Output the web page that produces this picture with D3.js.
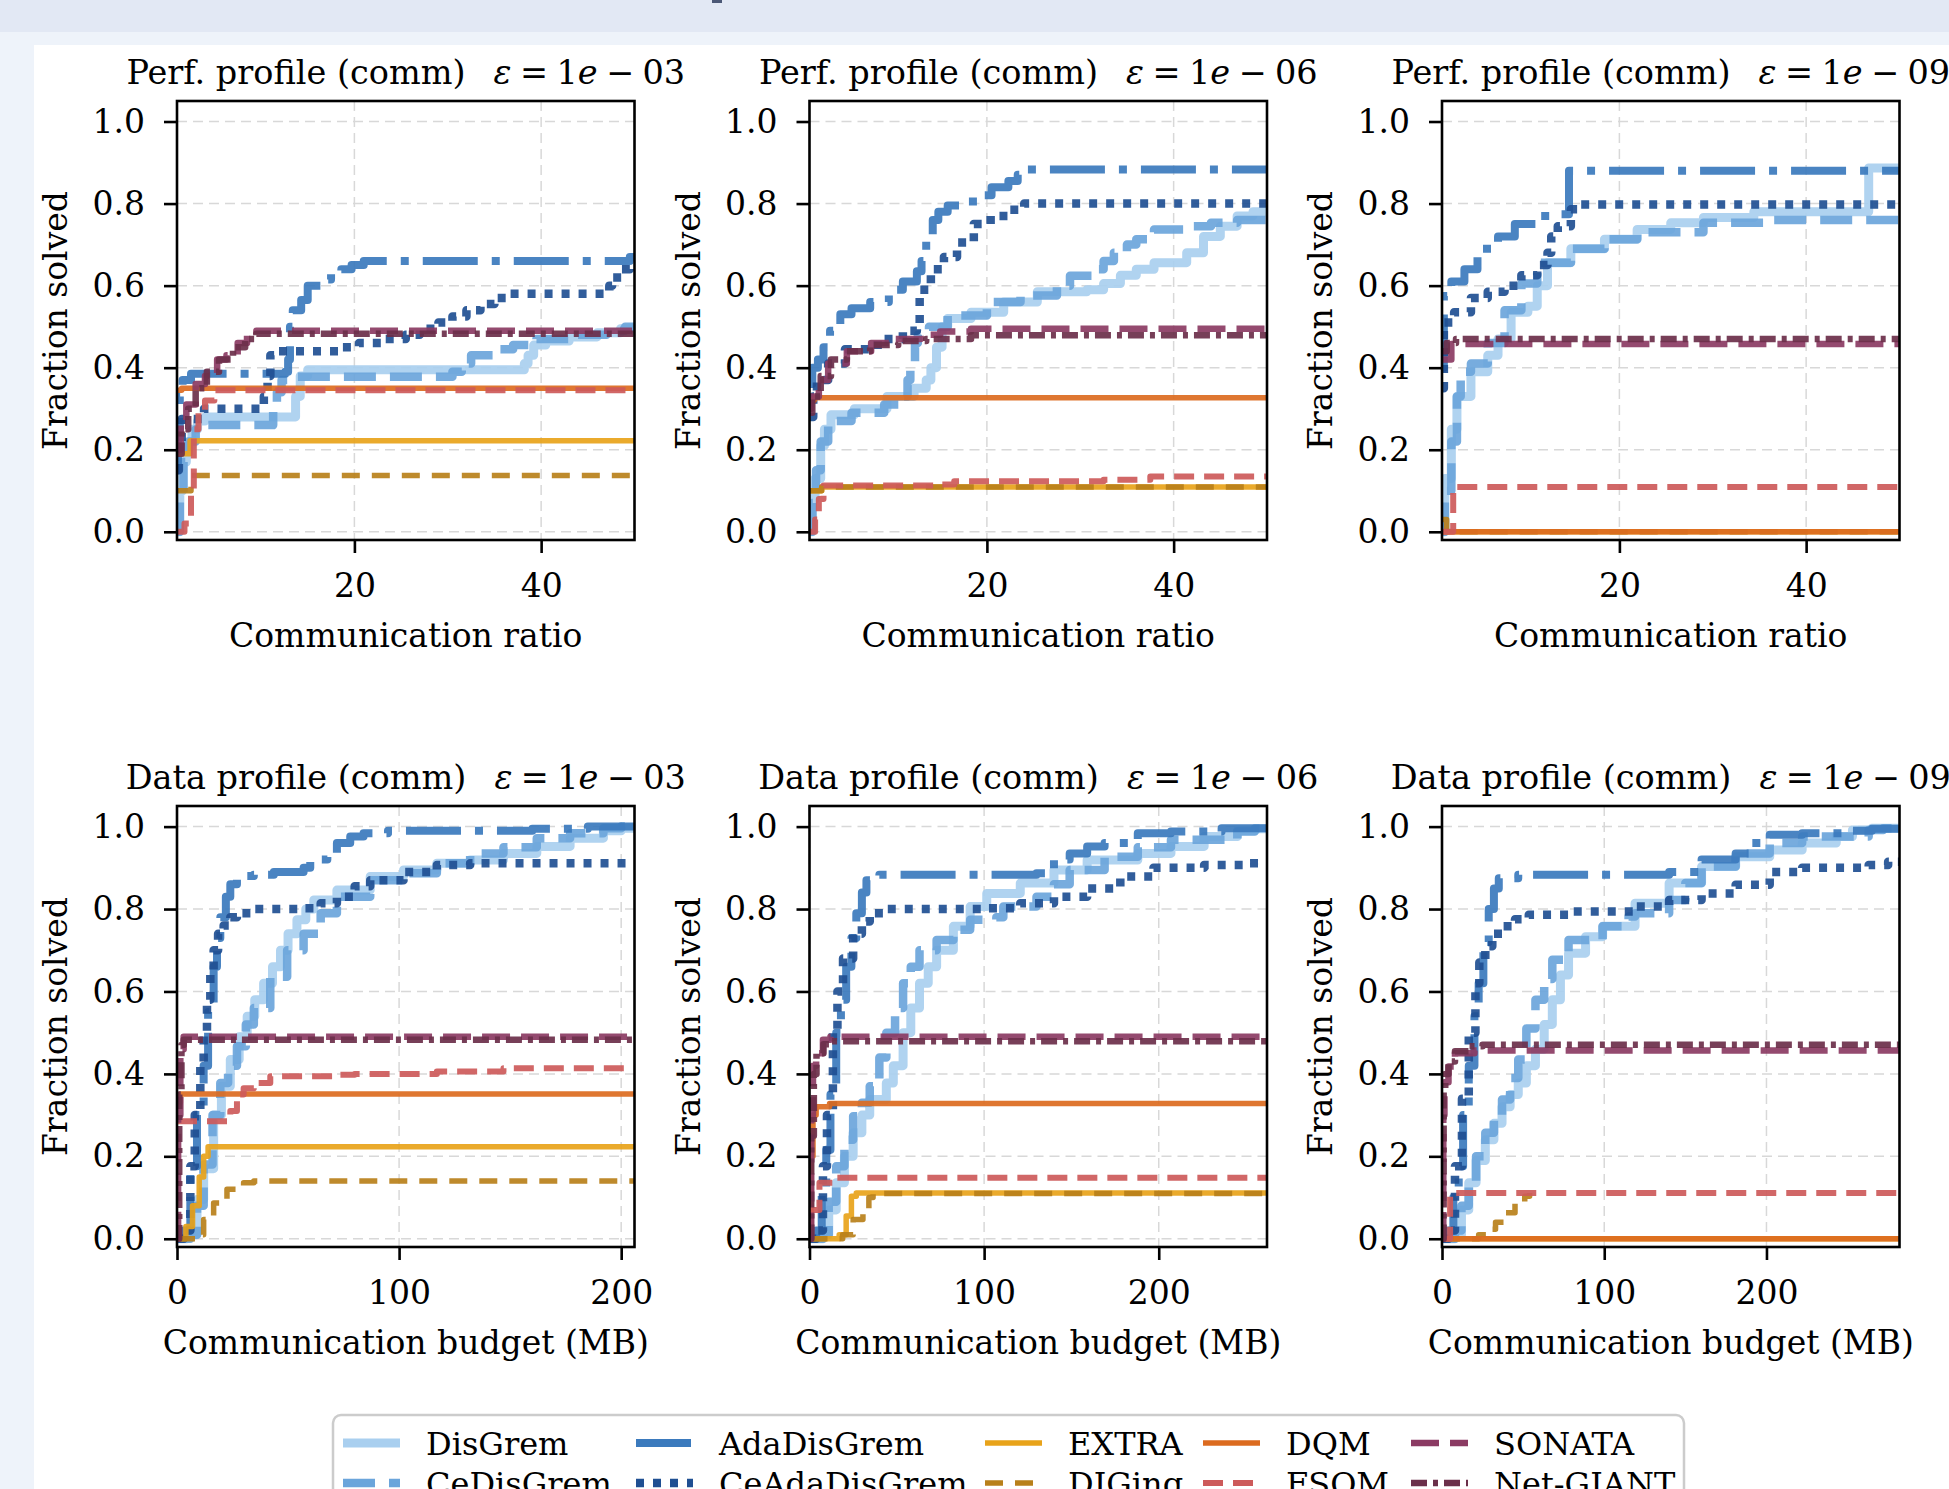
<!DOCTYPE html>
<html>
<head>
<meta charset="utf-8">
<script src="https://cdn.jsdelivr.net/npm/d3@7"></script>
<style>
html,body{margin:0;padding:0;background:#eef3fa;}
svg{display:block;font-family:"DejaVu Serif",serif;}
</style>
</head>
<body>
<svg id="chart" width="1949" height="1489"></svg>
<script>
// ---------------- DATA ----------------
const methods = ["DisGrem","CeDisGrem","AdaDisGrem","CeAdaDisGrem","EXTRA","DIGing","DQM","FSOM","SONATA","Net-GIANT"];
const epsLabels = ["03","06","09"];
const profileNames = ["Perf. profile (comm)","Data profile (comm)"];
const xAxisLabels = ["Communication ratio","Communication budget (MB)"];
const yAxisLabel = "Fraction solved";
const yTicks = [0,0.2,0.4,0.6,0.8,1.0];
const perfXTicks = [20,40];
const dataXTicks = [0,100,200];
const perfXLim = [[1,50],[1,50],[1,50]];
const dataXLim = [[0,206],[0,262],[0,282]];

// step points [x, y] per method, in order of `methods`
const perfE03 = [
  [[1,0],[1.3,0.1],[1.6,0.17],[2,0.21],[2.6,0.25],[3.2,0.27],[4,0.28],[13.7,0.33],[14.2,0.38],[15,0.395],[38.2,0.41],[38.6,0.43],[39.2,0.455],[40.5,0.465],[43,0.475],[46,0.485],[48.5,0.495],[50,0.495]],
  [[1,0],[1.3,0.08],[1.7,0.17],[2.2,0.22],[3,0.25],[3.9,0.26],[11.3,0.3],[11.7,0.34],[12.2,0.37],[13,0.378],[30.5,0.39],[31.5,0.41],[32.5,0.43],[35,0.445],[37,0.455],[39.5,0.47],[43,0.48],[47,0.49],[49,0.5],[50,0.5]],
  [[1,0.15],[1.1,0.25],[1.3,0.33],[1.6,0.37],[2.5,0.385],[12.6,0.39],[12.9,0.42],[13.1,0.5],[13.4,0.54],[14.3,0.565],[15,0.6],[16.5,0.615],[17.5,0.63],[18.6,0.64],[19.7,0.65],[21,0.66],[49.5,0.67],[50,0.67]],
  [[1,0.15],[1.2,0.22],[1.5,0.275],[3.9,0.3],[10.3,0.33],[10.7,0.38],[11,0.43],[11.5,0.44],[18.5,0.45],[20.5,0.46],[23,0.47],[25.5,0.48],[27,0.495],[29,0.51],[30.5,0.525],[32,0.54],[33.5,0.555],[35,0.57],[36.5,0.58],[47.3,0.6],[47.6,0.62],[48.6,0.64],[49.5,0.65],[50,0.65]],
  [[1,0.19],[2.4,0.222],[50,0.222]],
  [[1,0.1],[2.5,0.137],[50,0.137]],
  [[1,0.345],[1.5,0.35],[50,0.35]],
  [[1,0],[1.8,0.02],[2.5,0.1],[2.8,0.25],[3.3,0.29],[4,0.32],[5,0.345],[50,0.345]],
  [[1,0.2],[1.4,0.26],[2,0.31],[3,0.36],[4,0.38],[5.3,0.42],[6.3,0.43],[7.5,0.46],[8.5,0.48],[9.5,0.49],[50,0.49]],
  [[1,0.19],[1.5,0.25],[2.2,0.3],[3,0.35],[4.2,0.39],[5.5,0.42],[7,0.45],[8.3,0.47],[9.5,0.483],[50,0.483]]
];
const perfE06 = [
  [[1,0],[1.3,0.08],[1.6,0.13],[2.2,0.21],[2.6,0.25],[3.3,0.285],[5.8,0.3],[9.3,0.33],[12.2,0.35],[13.5,0.37],[14,0.4],[14.6,0.45],[15.2,0.5],[15.8,0.52],[18.3,0.535],[21.8,0.56],[25.4,0.585],[30.7,0.59],[32.5,0.605],[34.3,0.625],[36,0.64],[37.9,0.656],[41.4,0.68],[43.2,0.72],[45,0.745],[46.8,0.77],[48.5,0.78],[50,0.78]],
  [[1,0],[1.3,0.07],[1.7,0.15],[2.2,0.22],[3,0.27],[5.5,0.29],[9,0.31],[11.1,0.33],[11.5,0.37],[11.8,0.4],[12.3,0.46],[12.6,0.48],[13.8,0.5],[15.8,0.527],[20,0.56],[23.6,0.576],[27.5,0.6],[28.9,0.624],[31.4,0.64],[32.5,0.66],[33.6,0.68],[35,0.7],[36,0.713],[37.9,0.737],[41.4,0.745],[44,0.753],[46.8,0.76],[50,0.76]],
  [[1,0.36],[1.3,0.4],[1.9,0.42],[2.5,0.45],[3.2,0.49],[4.3,0.53],[5.5,0.545],[7.5,0.56],[9.5,0.59],[11,0.61],[12.5,0.635],[13,0.66],[13.5,0.71],[14.2,0.76],[14.8,0.78],[15.8,0.795],[17.8,0.805],[19,0.82],[20.5,0.84],[22.3,0.855],[23.3,0.87],[23.8,0.883],[50,0.883]],
  [[1,0.28],[1.4,0.33],[1.8,0.37],[3,0.41],[4.8,0.445],[8.3,0.47],[11,0.49],[12.5,0.5],[12.8,0.59],[14,0.64],[15.4,0.67],[16.8,0.705],[18.6,0.75],[20.4,0.77],[22.5,0.785],[24,0.8],[50,0.8]],
  [[1,0.1],[2.3,0.109],[50,0.109]],
  [[1,0.1],[2.3,0.109],[50,0.109]],
  [[1,0.32],[1.5,0.327],[50,0.327]],
  [[1,0],[1.6,0.03],[2,0.08],[2.5,0.113],[14.7,0.115],[16.5,0.123],[32.5,0.127],[37.5,0.135],[50,0.135]],
  [[1,0.3],[1.2,0.33],[2,0.37],[3,0.41],[5,0.44],[7.6,0.46],[10,0.47],[12.9,0.48],[15,0.488],[18.3,0.495],[50,0.495]],
  [[1,0.29],[1.3,0.33],[2.2,0.38],[3.3,0.42],[5,0.44],[7.5,0.455],[10.5,0.465],[13.5,0.47],[18.3,0.479],[50,0.479]]
];
const perfE09 = [
  [[1,0],[1.3,0.13],[2,0.25],[2.6,0.33],[4.1,0.39],[5.9,0.43],[7,0.47],[8.4,0.535],[10.2,0.55],[11.2,0.6],[12.3,0.656],[14.8,0.69],[18.4,0.713],[21.9,0.737],[25.5,0.753],[29,0.766],[34.4,0.78],[46.7,0.887],[50,0.887]],
  [[1,0],[1.3,0.1],[2,0.22],[2.6,0.33],[3,0.39],[4.1,0.41],[5.9,0.46],[7.7,0.54],[9.5,0.605],[11.2,0.656],[14.8,0.69],[18.4,0.713],[21.9,0.73],[29,0.753],[36,0.76],[50,0.76]],
  [[1,0.4],[1.2,0.575],[2,0.61],[3.4,0.64],[4.8,0.69],[7,0.72],[8.8,0.75],[11.2,0.77],[13,0.774],[14.6,0.88],[50,0.88]],
  [[1,0.35],[1.2,0.51],[2.3,0.535],[4.1,0.57],[5.9,0.585],[7.7,0.6],[9.5,0.625],[11.2,0.65],[12.3,0.68],[12.7,0.72],[13.4,0.745],[14.8,0.786],[15.8,0.798],[50,0.798]],
  [[1,0],[50,0]],
  [[1,0.03],[1.5,0],[50,0]],
  [[1,0],[50,0]],
  [[1,0],[2.2,0.109],[50,0.109]],
  [[1,0.42],[2,0.458],[50,0.458]],
  [[1,0.44],[1.5,0.46],[2.5,0.47],[50,0.47]]
];
const dataE03 = [
  [[0,0],[4.5,0.01],[9,0.095],[12,0.17],[16.5,0.3],[20,0.37],[24,0.435],[28,0.49],[31.6,0.54],[35,0.58],[39,0.62],[43,0.66],[46.6,0.7],[50,0.74],[54,0.774],[58,0.8],[61.6,0.822],[72,0.846],[87,0.879],[102,0.895],[117,0.911],[132,0.919],[147,0.935],[162,0.952],[177,0.972],[192,0.99],[200,0.996],[206,0.996]],
  [[0,0],[6,0.01],[9,0.08],[12,0.18],[16,0.3],[19.5,0.378],[23,0.42],[27,0.467],[31,0.52],[34.6,0.56],[42,0.636],[49.6,0.7],[57,0.74],[64.7,0.79],[72,0.83],[87,0.87],[102,0.887],[117,0.911],[132,0.935],[147,0.95],[162,0.972],[177,0.984],[192,0.996],[200,1.0],[206,1.0]],
  [[0,0],[3,0.02],[6,0.176],[9,0.3],[12,0.42],[14,0.55],[16.5,0.66],[18,0.73],[19.5,0.78],[22,0.83],[24,0.86],[27,0.88],[34.6,0.883],[43.6,0.89],[57,0.9],[60,0.92],[67.7,0.935],[72,0.96],[78,0.976],[84,0.984],[95,0.99],[160,0.995],[185,1.0],[206,1.0]],
  [[0,0],[3,0.02],[6,0.176],[8,0.3],[10.5,0.42],[12,0.5],[13.5,0.58],[15,0.65],[16.5,0.7],[18.5,0.74],[21,0.76],[24,0.78],[27,0.79],[34.6,0.8],[57,0.802],[64.7,0.814],[72,0.83],[80,0.855],[87,0.87],[102,0.89],[117,0.907],[132,0.911],[206,0.911]],
  [[0,0],[4,0.03],[7,0.08],[10,0.15],[12,0.2],[14,0.223],[206,0.223]],
  [[0,0],[9,0.01],[12,0.047],[16.5,0.087],[22.5,0.12],[30,0.136],[34.6,0.14],[206,0.14]],
  [[0,0.33],[1.5,0.351],[206,0.351]],
  [[0,0.285],[24,0.31],[27,0.35],[30,0.365],[34.6,0.378],[42,0.394],[72,0.398],[80,0.4],[117,0.406],[147,0.414],[206,0.414]],
  [[0,0],[0.5,0.3],[1.5,0.46],[3,0.49],[206,0.49]],
  [[0,0],[1,0.35],[2,0.47],[3,0.483],[206,0.483]]
];
const dataE06 = [
  [[0,0],[7.7,0.01],[11,0.07],[15.3,0.136],[20,0.2],[25,0.257],[30,0.3],[34.5,0.338],[44,0.378],[48,0.42],[53.6,0.5],[58,0.56],[63,0.62],[68,0.66],[72.8,0.7],[82.4,0.758],[92,0.806],[101.5,0.838],[120.7,0.863],[140,0.895],[159,0.919],[188,0.935],[207,0.952],[226,0.976],[245,0.99],[255,0.995],[262,0.995]],
  [[0,0],[7.7,0.01],[11,0.09],[15.3,0.176],[20,0.24],[25,0.297],[30,0.33],[34.5,0.37],[40,0.44],[44,0.5],[49,0.56],[53.6,0.62],[58,0.66],[63,0.7],[72.8,0.725],[82.4,0.75],[92,0.774],[107,0.78],[111,0.806],[130,0.83],[140,0.86],[149,0.895],[169,0.927],[188,0.95],[207,0.968],[245,0.988],[255,0.995],[262,0.995]],
  [[0,0],[3.8,0.02],[7,0.12],[9.6,0.216],[12,0.35],[15.3,0.5],[18,0.58],[21,0.66],[24,0.73],[26.8,0.79],[30,0.84],[32.6,0.87],[40,0.883],[130,0.887],[140,0.92],[149,0.935],[159,0.952],[169,0.96],[188,0.984],[207,0.988],[236,0.996],[262,0.996]],
  [[0,0],[3.8,0.02],[7.7,0.176],[10,0.3],[13.4,0.5],[16,0.6],[19.2,0.68],[25,0.74],[30,0.77],[34.5,0.79],[44,0.8],[101.5,0.802],[120.7,0.814],[140,0.83],[159,0.85],[178,0.879],[197,0.9],[226,0.907],[250,0.911],[262,0.911]],
  [[0,0],[17,0.01],[21,0.055],[24,0.103],[26.8,0.111],[262,0.111]],
  [[0,0],[19,0.01],[25,0.047],[30.6,0.07],[34,0.1],[36.4,0.11],[262,0.11]],
  [[0,0],[1,0.2],[2,0.3],[3.8,0.32],[11.5,0.328],[262,0.328]],
  [[0,0.07],[5.7,0.136],[15,0.148],[262,0.148]],
  [[0,0],[1,0.3],[2,0.42],[3.8,0.45],[7.7,0.483],[12,0.49],[262,0.49]],
  [[0,0],[1,0.25],[2.5,0.4],[4,0.45],[8,0.472],[12,0.479],[262,0.479]]
];
const dataE09 = [
  [[0,0],[8,0.01],[12,0.07],[16.5,0.136],[21,0.19],[26.7,0.24],[32,0.28],[37,0.32],[42,0.35],[47,0.378],[52,0.42],[57.6,0.46],[63,0.52],[68,0.58],[73,0.64],[78,0.693],[88.5,0.733],[99,0.758],[119,0.814],[140,0.863],[160,0.903],[181,0.927],[202,0.943],[222,0.96],[243,0.976],[253,0.992],[265,0.996],[282,0.996]],
  [[0,0],[8,0.02],[12,0.08],[16.5,0.136],[21,0.2],[26.7,0.257],[32,0.3],[37,0.338],[42,0.39],[47,0.435],[52,0.51],[57.6,0.58],[63,0.63],[68,0.677],[78,0.725],[99,0.758],[115,0.782],[119,0.79],[140,0.822],[150,0.863],[160,0.903],[181,0.935],[202,0.96],[222,0.976],[263,0.992],[272,0.996],[282,0.996]],
  [[0,0],[4,0.02],[7,0.1],[10.3,0.176],[13,0.3],[16.5,0.42],[20,0.54],[22.6,0.62],[25.5,0.72],[28.8,0.8],[32,0.85],[35,0.875],[47,0.883],[140,0.89],[160,0.92],[181,0.935],[191,0.96],[202,0.98],[222,0.984],[253,0.99],[265,0.995],[282,0.995]],
  [[0,0],[4,0.02],[8,0.176],[12.3,0.34],[16.5,0.5],[20.6,0.62],[23,0.67],[26.7,0.71],[31,0.74],[37,0.758],[45,0.775],[53.5,0.786],[78,0.794],[119,0.806],[140,0.822],[160,0.838],[181,0.859],[202,0.89],[222,0.9],[263,0.907],[275,0.915],[282,0.915]],
  [[0,0],[282,0]],
  [[0,0],[22.6,0.01],[28.8,0.023],[33,0.04],[39,0.063],[45,0.087],[51,0.103],[54,0.111]],
  [[0,0],[282,0]],
  [[0,0],[5,0.111],[282,0.111]],
  [[0,0],[0.8,0.3],[1.5,0.38],[4,0.418],[8,0.45],[20,0.457],[282,0.457]],
  [[0,0],[1,0.36],[2,0.4],[4,0.43],[8,0.455],[16.5,0.467],[25,0.471],[282,0.471]]
];

// ---------------- STYLE ----------------
const methodColors = ["#a9cfef","#6ba5db","#3b7abd","#1f4f92","#e8a31a","#b8801a","#dc6b1f","#cd5a5a","#8b3b63","#6b2f4a"];
const methodWidths = [9,8.5,8,8.5,5.5,5.5,5.5,6,6.5,6.5];
const methodDashes = [null,"32,14","55,14,8,14","8,9",null,"18,12",null,"20,10","28,11","16,6,5,6"];

const panels = [
  {kind:0, eps:0, xlim:perfXLim[0], ticks:perfXTicks, data:perfE03},
  {kind:0, eps:1, xlim:perfXLim[1], ticks:perfXTicks, data:perfE06},
  {kind:0, eps:2, xlim:perfXLim[2], ticks:perfXTicks, data:perfE09},
  {kind:1, eps:0, xlim:dataXLim[0], ticks:dataXTicks, data:dataE03},
  {kind:1, eps:1, xlim:dataXLim[1], ticks:dataXTicks, data:dataE06},
  {kind:1, eps:2, xlim:dataXLim[2], ticks:dataXTicks, data:dataE09}
];

const W = 1949, H = 1489;
const svg = d3.select("#chart");

// page background
svg.append("rect").attr("x",0).attr("y",0).attr("width",W).attr("height",H).attr("fill","#eef3fa");
svg.append("rect").attr("x",0).attr("y",0).attr("width",W).attr("height",32).attr("fill","#e2e8f4");
svg.append("rect").attr("x",712).attr("y",0).attr("width",10).attr("height",3).attr("fill","#4b5876");
svg.append("rect").attr("x",34).attr("y",45).attr("width",W-34).attr("height",H-45).attr("fill","#ffffff");

const colLeft = [177, 809.5, 1442];
const axW = 457.5;
const rowTop = [101, 806];
const axH = [439, 441];
const yDomain = [-0.02, 1.05];
const fmtY = d3.format(".1f");
const FS = 33;

panels.forEach((p, i) => {
  const r = Math.floor(i/3), c = i % 3;
  const L = colLeft[c], T = rowTop[r], B = T + axH[r], R = L + axW;
  const x = d3.scaleLinear().domain(p.xlim).range([L, R]);
  const y = d3.scaleLinear().domain(yDomain).range([B, T]);
  const g = svg.append("g");

  // grid
  const grid = g.append("g").attr("stroke","#d8d8d8").attr("stroke-width",1.5).attr("stroke-dasharray","10,6");
  yTicks.forEach(v => grid.append("line").attr("x1",L).attr("x2",R).attr("y1",y(v)).attr("y2",y(v)));
  p.ticks.forEach(v => grid.append("line").attr("x1",x(v)).attr("x2",x(v)).attr("y1",T).attr("y2",B));

  // clip
  const cid = "clip" + i;
  svg.append("defs").append("clipPath").attr("id",cid)
    .append("rect").attr("x",L).attr("y",T).attr("width",axW).attr("height",axH[r]);

  const line = d3.line().x(d => x(d[0])).y(d => y(d[1])).curve(d3.curveStepAfter);
  const lg = g.append("g").attr("clip-path","url(#"+cid+")");
  p.data.forEach((pts, k) => {
    const path = lg.append("path").attr("d", line(pts))
      .attr("fill","none").attr("stroke",methodColors[k])
      .attr("stroke-width",methodWidths[k]).attr("stroke-opacity",0.92)
      .attr("stroke-linejoin","round");
    if (methodDashes[k]) path.attr("stroke-dasharray",methodDashes[k]).attr("stroke-linecap","butt");
    else path.attr("stroke-linecap","square");
  });

  // axes
  const ax = g.append("g").attr("transform","translate(0,"+B+")")
    .call(d3.axisBottom(x).tickValues(p.ticks).tickSize(13).tickPadding(21).tickFormat(d3.format("d")));
  const ay = g.append("g").attr("transform","translate("+L+",0)")
    .call(d3.axisLeft(y).tickValues(yTicks).tickSize(13).tickPadding(19).tickFormat(fmtY));
  [ax, ay].forEach(a => {
    a.select(".domain").remove();
    a.selectAll("line").attr("stroke","#000").attr("stroke-width",2.6);
    a.selectAll("text").attr("font-size",FS).attr("font-family","DejaVu Serif").attr("fill","#000");
  });

  // frame
  g.append("rect").attr("x",L).attr("y",T).attr("width",axW).attr("height",axH[r])
    .attr("fill","none").attr("stroke","#000").attr("stroke-width",2.6);

  // axis labels
  g.append("text").attr("x",(L+R)/2).attr("y",B+107).attr("text-anchor","middle")
    .attr("font-size",FS).text(xAxisLabels[p.kind]);
  g.append("text").attr("transform","translate("+(L-110)+","+((T+B)/2)+") rotate(-90)")
    .attr("text-anchor","middle").attr("font-size",FS).text(yAxisLabel);

  // title
  const t = g.append("text").attr("x",(L+R)/2).attr("y",T-17).attr("text-anchor","middle").attr("font-size",33.5);
  t.append("tspan").text(profileNames[p.kind] + "\u00a0\u00a0\u2009");
  t.append("tspan").attr("font-style","italic").text("\u03b5");
  t.append("tspan").text("\u2005=\u2005" + "1");
  t.append("tspan").attr("font-style","italic").text("e");
  t.append("tspan").text("\u2005\u2212\u2005" + epsLabels[p.eps]);
});

// legend
const legX = 333, legY = 1415, legW = 1351;
svg.append("rect").attr("x",legX).attr("y",legY).attr("width",legW).attr("height",120).attr("rx",8)
  .attr("fill","#ffffff").attr("stroke","#cccccc").attr("stroke-width",2.5);
const legColX = [343, 636, 985, 1203, 1411];
const legRowY = [1443, 1483];
methods.forEach((m, k) => {
  const col = Math.floor(k/2), row = k % 2;
  const hx = legColX[col], hy = legRowY[row];
  const h = svg.append("line").attr("x1",hx).attr("x2",hx+57).attr("y1",hy).attr("y2",hy)
    .attr("stroke",methodColors[k]).attr("stroke-width",methodWidths[k]);
  if (methodDashes[k]) h.attr("stroke-dasharray",methodDashes[k]);
  svg.append("text").attr("x",hx+83).attr("y",hy+12).attr("font-size",32).text(m);
});
</script>
</body>
</html>
